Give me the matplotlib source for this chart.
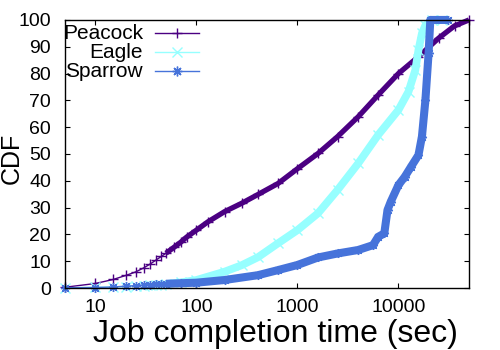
"""
CDF of job completion time - Peacock / Eagle / Sparrow (gnuplot look).
"""
import matplotlib
matplotlib.use('Agg')
import matplotlib.pyplot as plt
from matplotlib.ticker import FixedLocator, NullLocator
import numpy as np

plt.rcParams['font.family'] = ['Liberation Sans', 'DejaVu Sans']

# Valores (tempo em segundos, CDF em %)
peacock_t = [5, 10, 15, 20, 25, 30, 35, 40, 45, 50, 60, 70, 80, 100, 130, 190,
             280, 407, 643, 1000, 1600, 2500, 4000, 6300, 10000, 15800, 25000,
             36000, 50000]
peacock_cdf = [0.3, 1.7, 3.2, 4.7, 6.0, 7.5, 9.0, 10.5, 11.8, 13.0, 15.2, 17.1,
               19.0, 21.6, 24.7, 28.5, 31.6, 34.9, 39.0, 44.5, 50.2, 56.5, 63.9,
               72.0, 80.0, 86.3, 93.2, 97.8, 100.0]

eagle_t = [5, 10, 15, 20, 25, 30, 35, 40, 45, 50, 70, 100, 190, 280, 407, 643,
           1000, 1600, 2500, 4000, 6300, 10000, 12600, 14700, 15800, 17100,
           18500, 21600, 27000]
eagle_cdf = [0.1, 0.3, 0.4, 0.5, 0.7, 0.9, 1.0, 1.2, 1.3, 1.5, 2.1, 3.0, 6.1,
             8.5, 11.5, 16.7, 21.6, 27.9, 36.6, 46.5, 57.1, 66.4, 73.3, 81.3,
             88.8, 95.0, 98.0, 100.0, 100.0]

sparrow_t = [5, 10, 15, 20, 25, 30, 35, 40, 45, 50, 70, 100, 190, 407, 643,
             1000, 1600, 2500, 4000, 5600, 6300, 7250, 7800, 8400, 10000,
             11560, 13360, 15800, 17100, 18500, 19900, 20700, 31000]
sparrow_cdf = [0.1, 0.2, 0.4, 0.7, 0.9, 1.1, 1.3, 1.4, 1.5, 1.6, 1.8, 2.0, 3.0,
               4.8, 6.7, 8.6, 11.4, 12.9, 14.2, 16.0, 19.1, 20.4, 29.1, 32.2,
               38.4, 41.5, 45.3, 49.6, 56.5, 70.0, 87.6, 100.0, 100.0]

x_ticks = [10, 100, 1000, 10000]
x_tick_labels = ['10', '100', '1000', '10000']
y_ticks = list(range(0, 101, 10))

# series: (nome, tempos, cdf, cor, marcador, espessura da faixa)
series = [
    ('Peacock', peacock_t, peacock_cdf, '#4B0082', '+', 3.8),
    ('Eagle', eagle_t, eagle_cdf, '#96FFFF', 'x', 5.6),
    ('Sparrow', sparrow_t, sparrow_cdf, '#4673DA', (8, 2, 0), 5.8),
]

fig = plt.figure(figsize=(5, 3.5), dpi=100, facecolor='white')
ax = fig.add_axes([0.13, 0.177, 0.808, 0.766])

for nome, t, cdf, cor, mk, lw in series:
    t = np.array(t)
    cdf = np.array(cdf)
    ax.plot(t, cdf, color=cor, lw=1.0, marker=mk, markersize=6.5,
            markeredgewidth=1.0, clip_on=False)
    dense = t >= 50
    ax.plot(t[dense], cdf[dense], color=cor, lw=lw, solid_capstyle='butt',
            solid_joinstyle='round', clip_on=False)

ax.set_xscale('log')
ax.set_xlim(5, 50000)
ax.set_ylim(0, 100)
ax.xaxis.set_major_locator(FixedLocator(x_ticks))
ax.xaxis.set_minor_locator(NullLocator())
ax.set_xticklabels(x_tick_labels)
ax.set_yticks(y_ticks)

ax.tick_params(direction='in', length=3.5, width=0.8, labelsize=14,
               top=True, right=True)
ax.tick_params(axis='x', pad=8)
ax.tick_params(axis='y', pad=10)
for s in ax.spines.values():
    s.set_linewidth(1.0)

ax.set_xlabel('Job completion time (sec)', fontsize=23, va='baseline')
ax.xaxis.set_label_coords(0.522, -0.2015)
ax.set_ylabel('CDF', fontsize=18, va='center')
ax.yaxis.set_label_coords(-0.132, 0.485)

# Legenda estilo gnuplot: texto alinhado a direita, amostra de linha depois
for i, (nome, t, cdf, cor, mk, lw) in enumerate(series):
    y = 0.951 - i * 0.071
    ax.text(0.193, y, nome, transform=ax.transAxes, ha='right', va='center',
            fontsize=15)
    ax.plot([0.223, 0.332], [y, y], transform=ax.transAxes, color=cor,
            lw=1.0, clip_on=False)
    ax.plot([0.277], [y], transform=ax.transAxes, color=cor, marker=mk,
            markersize=7, markeredgewidth=1.0, clip_on=False)

plt.savefig('out.png', dpi=100, facecolor='white')
plt.close()
